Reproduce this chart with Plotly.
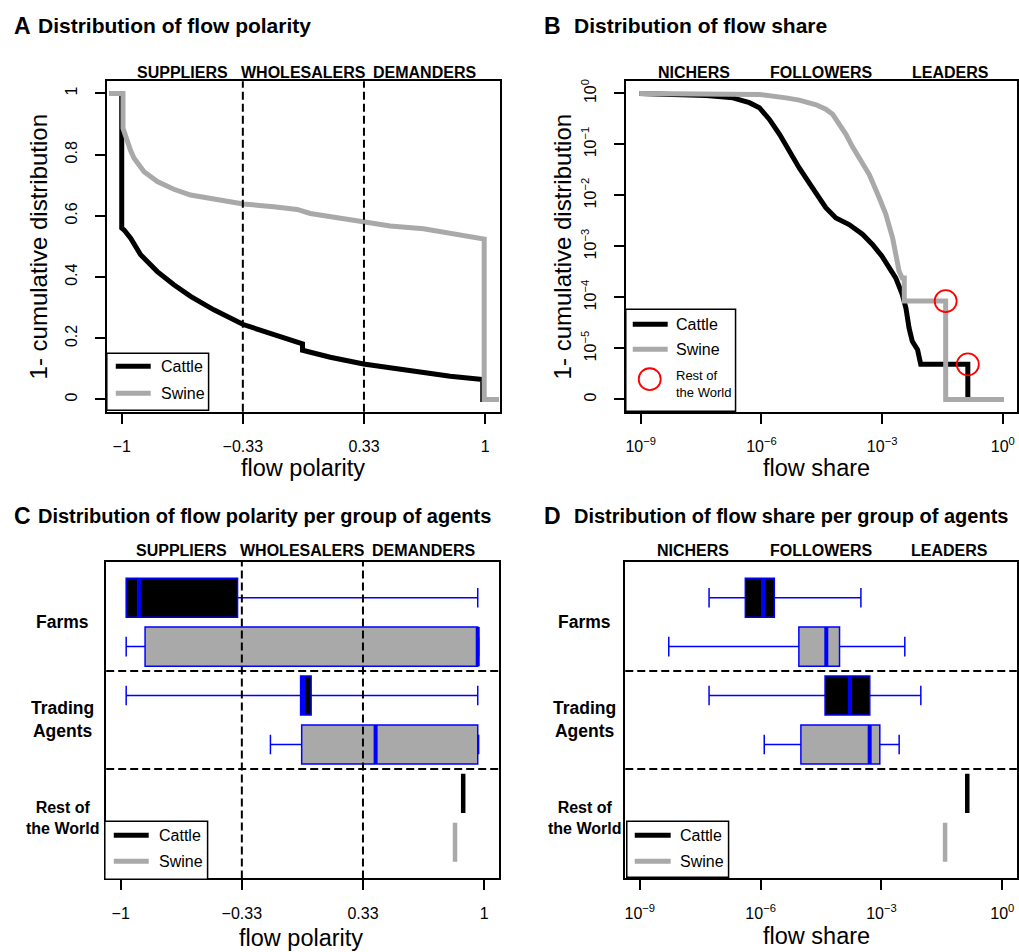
import math
import plotly.graph_objects as go

W, H = 1019, 952
FONT = "Liberation Sans"
GRAY = "#A9A9A9"
BLUE = "#0000FF"

# ---------------- Panel A: 1 - CDF of flow polarity ----------------
polarity_cattle = [-1.07, -1.0, -1.0, -0.987, -0.951, -0.896, -0.804, -0.713, -0.621,
                   -0.493, -0.331, -0.163, -0.005, -0.005, 0.148, 0.331, 0.570, 0.808,
                   0.987, 0.987, 1.073]
ccdf_polarity_cattle = [1.0, 1.0, 0.560, 0.554, 0.527, 0.473, 0.418, 0.375, 0.337,
                        0.293, 0.245, 0.212, 0.182, 0.161, 0.138, 0.116, 0.095, 0.076,
                        0.065, 0.0, 0.0]
polarity_swine = [-1.07, -0.993, -0.993, -0.980, -0.969, -0.950, -0.932, -0.905, -0.877,
                  -0.804, -0.713, -0.621, -0.493, -0.331, -0.163, -0.035, 0.038, 0.148,
                  0.331, 0.478, 0.661, 0.808, 0.936, 0.995, 0.995, 1.073]
ccdf_polarity_swine = [1.0, 1.0, 0.886, 0.862, 0.842, 0.812, 0.788, 0.763, 0.744,
                       0.712, 0.687, 0.668, 0.655, 0.639, 0.630, 0.621, 0.608, 0.597,
                       0.579, 0.567, 0.558, 0.543, 0.529, 0.524, 0.0, 0.0]

# ---------------- Panel B: 1 - CDF of flow share (log-log) ----------------
share_cattle = [9.1e-10, 4.27e-8, 1.95e-7, 5.0e-7, 8.9e-7, 1.58e-6, 2.82e-6, 4.9e-6,
                8.7e-6, 1.86e-5, 3.98e-5, 7.1e-5, 1.51e-4, 3.24e-4, 5.75e-4, 9.8e-4,
                1.48e-3, 2.19e-3, 3.16e-3, 3.89e-3, 4.68e-3, 5.62e-3, 7.6e-3, 9.1e-3,
                0.135, 0.135, 1.07]
ccdf_share_cattle = [1.0, 0.91, 0.82, 0.66, 0.525, 0.31, 0.158, 0.074,
                     0.0347, 0.0141, 5.75e-3, 3.63e-3, 2.69e-3, 1.74e-3, 1.10e-3, 6.5e-4,
                     3.8e-4, 2.4e-4, 1.15e-4, 6.3e-5, 2.5e-5, 1.38e-5, 9.5e-6, 4.9e-6,
                     4.9e-6, 0.0, 0.0]
share_swine = [9.1e-10, 8.9e-7, 4.07e-6, 8.7e-6, 2.29e-5, 3.98e-5, 5.89e-5, 8.5e-5,
               1.26e-4, 1.82e-4, 2.69e-4, 4.79e-4, 8.51e-4, 1.23e-3, 1.82e-3, 2.19e-3,
               2.63e-3, 3.16e-3, 3.55e-3, 3.55e-3, 0.038, 0.038, 1.07]
ccdf_share_swine = [1.0, 0.955, 0.82, 0.74, 0.60, 0.49, 0.39, 0.25,
                    0.158, 0.091, 0.055, 0.0257, 8.9e-3, 4.3e-3, 1.48e-3, 6.9e-4,
                    3.3e-4, 2.4e-4, 2.4e-4, 8.5e-5, 8.5e-5, 0.0, 0.0]
ZERO_ON_LOG = 1e-6  # position of the "0" tick on the log ccdf axis

# ---------------- Panels C/D: per group of agents ----------------
groups = ["Farms", "Trading<br>Agents", "Rest of<br>the World"]
cattle_pos = [1, 3]          # Farms, Trading Agents (cattle rows)
swine_pos = [2, 4]           # Farms, Trading Agents (swine rows)
row_cattle_pos, row_swine_pos = 5, 6
BOX_HALF = 0.4

pol_cattle_lo = [-0.97, -0.97]
pol_cattle_q1 = [-0.97, -0.01]
pol_cattle_med = [-0.90, 0.005]
pol_cattle_q3 = [-0.357, 0.048]
pol_cattle_hi = [0.965, 0.965]
pol_swine_lo = [-0.97, -0.176]
pol_swine_q1 = [-0.866, -0.004]
pol_swine_med = [0.965, 0.403]
pol_swine_q3 = [0.965, 0.965]
pol_swine_hi = [0.97, 0.97]
pol_row_cattle = 0.885
pol_row_swine = 0.84

shr_cattle_lo = [5.25e-8, 5.25e-8]
shr_cattle_q1 = [4.17e-7, 3.98e-5]
shr_cattle_med = [1.15e-6, 1.66e-4]
shr_cattle_q3 = [2.19e-6, 5.13e-4]
shr_cattle_hi = [3.09e-4, 9.5e-3]
shr_swine_lo = [5.25e-9, 1.23e-6]
shr_swine_q1 = [8.9e-6, 1.0e-5]
shr_swine_med = [4.27e-5, 5.1e-4]
shr_swine_q3 = [9.1e-5, 9.1e-4]
shr_swine_hi = [3.8e-3, 2.75e-3]
shr_row_cattle = 0.135
shr_row_swine = 0.038

polarity_roles = ["SUPPLIERS", "WHOLESALERS", "DEMANDERS"]
polarity_role_x = [-0.667, 0.0, 0.667]
polarity_bounds = [-1 / 3, 1 / 3]
polarity_ticks = [-1, -1 / 3, 1 / 3, 1]
polarity_ticktext = ["\u22121", "\u22120.33", "0.33", "1"]
share_roles = ["NICHERS", "FOLLOWERS", "LEADERS"]
share_role_logx = [-7.68, -4.5, -1.3]
share_bounds = [1e-6, 1e-3]
share_ticks = [1e-9, 1e-6, 1e-3, 1]
share_ticktext = ["10<sup>\u22129</sup>", "10<sup>\u22126</sup>", "10<sup>\u22123</sup>", "10<sup>0</sup>"]
ccdf_log_ticks = [1e-6, 1e-5, 1e-4, 1e-3, 1e-2, 1e-1, 1]
ccdf_log_ticktext = ["0", "10<sup>\u22125</sup>", "10<sup>\u22124</sup>", "10<sup>\u22123</sup>",
                     "10<sup>\u22122</sup>", "10<sup>\u22121</sup>", "10<sup>0</sup>"]


def px_x(p):
    return p / W


def px_y(p):
    return 1 - p / H


fig = go.Figure()


def curve(xa, ya, x, y, color):
    fig.add_trace(go.Scatter(x=x, y=y, mode="lines", xaxis=xa, yaxis=ya,
                             line=dict(color=color, width=5), hoverinfo="skip",
                             showlegend=False))


# A
curve("x", "y", polarity_cattle, ccdf_polarity_cattle, "black")
curve("x", "y", polarity_swine, ccdf_polarity_swine, GRAY)

# B
curve("x2", "y2", share_cattle, [v if v > 0 else ZERO_ON_LOG for v in ccdf_share_cattle], "black")
curve("x2", "y2", share_swine, [v if v > 0 else ZERO_ON_LOG for v in ccdf_share_swine], GRAY)


def row_point(shares, ccdf):
    # the largest flow (Rest of the World) is where the ccdf falls to zero
    i = next(k for k, v in enumerate(ccdf) if v == 0)
    return shares[i], ccdf[i - 1]


rw = [row_point(share_cattle, ccdf_share_cattle), row_point(share_swine, ccdf_share_swine)]
fig.add_trace(go.Scatter(x=[p[0] for p in rw], y=[p[1] for p in rw], mode="markers",
                         xaxis="x2", yaxis="y2", hoverinfo="skip", showlegend=False,
                         marker=dict(symbol="circle-open", size=22, color="red",
                                     line=dict(width=1.8, color="red"))))


def boxes(xa, ya, pos, lo, q1, med, q3, hi, fill):
    fig.add_trace(go.Box(y=pos, lowerfence=lo, q1=q1, median=med, q3=q3, upperfence=hi,
                         orientation="h", width=2 * BOX_HALF, whiskerwidth=0.5,
                         fillcolor=fill, line=dict(color=BLUE, width=1.5),
                         xaxis=xa, yaxis=ya, boxpoints=False, hoverinfo="skip",
                         showlegend=False))
    for p, m in zip(pos, med):
        fig.add_trace(go.Scatter(x=[m, m], y=[p - BOX_HALF, p + BOX_HALF], mode="lines",
                                 xaxis=xa, yaxis=ya, line=dict(color=BLUE, width=4),
                                 hoverinfo="skip", showlegend=False))


def single(xa, ya, pos, v, color):
    fig.add_trace(go.Scatter(x=[v, v], y=[pos - BOX_HALF, pos + BOX_HALF], mode="lines",
                             xaxis=xa, yaxis=ya, line=dict(color=color, width=4.5),
                             hoverinfo="skip", showlegend=False))


# C
boxes("x3", "y3", cattle_pos, pol_cattle_lo, pol_cattle_q1, pol_cattle_med, pol_cattle_q3, pol_cattle_hi, "black")
boxes("x3", "y3", swine_pos, pol_swine_lo, pol_swine_q1, pol_swine_med, pol_swine_q3, pol_swine_hi, GRAY)
single("x3", "y3", row_cattle_pos, pol_row_cattle, "black")
single("x3", "y3", row_swine_pos, pol_row_swine, GRAY)

# D
boxes("x4", "y4", cattle_pos, shr_cattle_lo, shr_cattle_q1, shr_cattle_med, shr_cattle_q3, shr_cattle_hi, "black")
boxes("x4", "y4", swine_pos, shr_swine_lo, shr_swine_q1, shr_swine_med, shr_swine_q3, shr_swine_hi, GRAY)
single("x4", "y4", row_cattle_pos, shr_row_cattle, "black")
single("x4", "y4", row_swine_pos, shr_row_swine, GRAY)

# ---------------- axes ----------------
base = dict(showline=True, linecolor="black", linewidth=2, mirror=True, ticks="outside",
            ticklen=10, tickwidth=1.5, tickcolor="black", showgrid=False, zeroline=False,
            tickfont=dict(family=FONT, size=16, color="black"), fixedrange=True)
xtick = dict(base, ticklabelstandoff=9)
ytick = dict(base, tickangle=-90, ticklabelstandoff=12)
noticks = dict(base, ticks="", showticklabels=False)

dom_top = [px_y(410.6), px_y(79.4)]
dom_bot = [px_y(878.3), px_y(560.7)]

fig.update_layout(
    xaxis=dict(xtick, domain=[px_x(106.4), px_x(499.6)], range=[-1.08, 1.08],
               tickvals=polarity_ticks, ticktext=polarity_ticktext, anchor="y"),
    yaxis=dict(ytick, domain=dom_top, range=[-0.04, 1.04],
               tickvals=[0, 0.2, 0.4, 0.6, 0.8, 1],
               ticktext=["0", "0.2", "0.4", "0.6", "0.8", "1"], anchor="x"),
    xaxis2=dict(xtick, type="log", domain=[px_x(626.5), px_x(1018.3)], range=[-9.36, 0.36],
                tickvals=share_ticks, ticktext=share_ticktext, anchor="y2"),
    yaxis2=dict(ytick, type="log", domain=dom_top, range=[-6.24, 0.24],
                tickvals=ccdf_log_ticks, ticktext=ccdf_log_ticktext, anchor="x2"),
    xaxis3=dict(xtick, domain=[px_x(105.4), px_x(498.6)], range=[-1.08, 1.08],
                tickvals=polarity_ticks, ticktext=polarity_ticktext, anchor="y3"),
    yaxis3=dict(noticks, domain=dom_bot, range=[6.74, 0.26], anchor="x3"),
    xaxis4=dict(xtick, type="log", domain=[px_x(625.5), px_x(1017.8)], range=[-9.36, 0.36],
                tickvals=share_ticks, ticktext=share_ticktext, anchor="y4"),
    yaxis4=dict(noticks, domain=dom_bot, range=[6.74, 0.26], anchor="x4"),
)

# ---------------- category boundaries ----------------
dash = dict(color="black", width=2, dash="8px,4px")
for b in polarity_bounds:
    fig.add_shape(type="line", xref="x", yref="y domain", x0=b, x1=b, y0=0, y1=1, line=dash)
    fig.add_shape(type="line", xref="x3", yref="y3 domain", x0=b, x1=b, y0=0, y1=1, line=dash)
for b in share_bounds:
    lb = math.log10(b)
    fig.add_shape(type="line", xref="x2", yref="y2 domain", x0=lb, x1=lb, y0=0, y1=1, line=dash)
    fig.add_shape(type="line", xref="x4", yref="y4 domain", x0=lb, x1=lb, y0=0, y1=1, line=dash)
for g in (2.5, 4.5):
    fig.add_shape(type="line", xref="x3 domain", yref="y3", x0=0, x1=1, y0=g, y1=g, line=dash)
    fig.add_shape(type="line", xref="x4 domain", yref="y4", x0=0, x1=1, y0=g, y1=g, line=dash)


def text(x, y, s, size, bold=False, xref="paper", yref="paper", xanchor="center",
         angle=0, align="center"):
    fig.add_annotation(x=x, y=y, xref=xref, yref=yref, text=f"<b>{s}</b>" if bold else s,
                       showarrow=False, xanchor=xanchor, yanchor="middle", textangle=angle,
                       align=align, font=dict(family=FONT, size=size, color="black"))


# role labels above the plots
for name, xv in zip(polarity_roles, polarity_role_x):
    text(xv, px_y(70.5), name, 16, True, xref="x")
    text(xv, px_y(549.5), name, 16, True, xref="x3")
for name, xv in zip(share_roles, share_role_logx):
    text(xv, px_y(70.5), name, 16, True, xref="x2")
    text(xv, px_y(549.5), name, 16, True, xref="x4")

# panel titles
for letter, title, lx, tx, ty, size in [
    ("A", "Distribution of flow polarity", 11, 35, 24, 21),
    ("B", "Distribution of flow share", 542, 572, 24, 21),
    ("C", "Distribution of flow polarity per group of agents", 11, 35, 515, 20),
    ("D", "Distribution of flow share per group of agents", 542, 572, 515, 20),
]:
    text(px_x(lx), px_y(ty), letter, 23, True, xanchor="left")
    text(px_x(tx), px_y(ty), title, size, True, xanchor="left")

# axis titles
text(px_x(303), px_y(467), "flow polarity", 23.5)
text(px_x(301), px_y(938), "flow polarity", 23.5)
text(px_x(817), px_y(467), "flow share", 23.5)
text(px_x(817), px_y(936), "flow share", 23.5)
text(px_x(38), px_y(245), "1- cumulative distribution", 24, angle=-90)
text(px_x(563), px_y(245), "1- cumulative distribution", 24, angle=-90)

# group labels for C and D
for i, g in enumerate(groups):
    size = 16 if i == 2 else 17.5
    text(px_x(62), 2 * i + 1.5, g, size, True, yref="y3")
    text(px_x(585), 2 * i + 1.5, g, size, True, yref="y4")


# ---------------- legends ----------------
def legend_box(x0, y0, x1, y1):
    fig.add_shape(type="rect", xref="paper", yref="paper", x0=px_x(x0), x1=px_x(x1),
                  y0=px_y(y1), y1=px_y(y0), line=dict(color="black", width=1.5),
                  fillcolor="white", layer="above")


def legend_line(x0, x1, y, color):
    fig.add_shape(type="line", xref="paper", yref="paper", x0=px_x(x0), x1=px_x(x1),
                  y0=px_y(y), y1=px_y(y), line=dict(color=color, width=5))


def legend_species(x0, y0, x1, y1, lx0, lx1, tx, yc, ys):
    legend_box(x0, y0, x1, y1)
    legend_line(lx0, lx1, yc, "black")
    legend_line(lx0, lx1, ys, GRAY)
    text(px_x(tx), px_y(yc), "Cattle", 16, xanchor="left")
    text(px_x(tx), px_y(ys), "Swine", 16, xanchor="left")


legend_species(106, 352, 208, 409, 115, 150, 158, 365, 392)
legend_species(626, 308, 736, 410, 633, 668, 674, 323, 348)
fig.add_shape(type="circle", xref="paper", yref="paper", x0=px_x(639), x1=px_x(661),
              y0=px_y(389), y1=px_y(367), line=dict(color="red", width=1.8))
text(px_x(674), px_y(383), "Rest of<br>the World", 13, xanchor="left", align="left")
legend_species(104, 821, 207, 879, 113, 148, 156, 835, 861)
legend_species(627, 821, 729, 877, 635, 671, 678, 835, 861)

fig.update_layout(width=W, height=H, margin=dict(l=0, r=0, t=0, b=0),
                  paper_bgcolor="white", plot_bgcolor="white", showlegend=False,
                  boxmode="overlay")

fig.write_html("out.html")
